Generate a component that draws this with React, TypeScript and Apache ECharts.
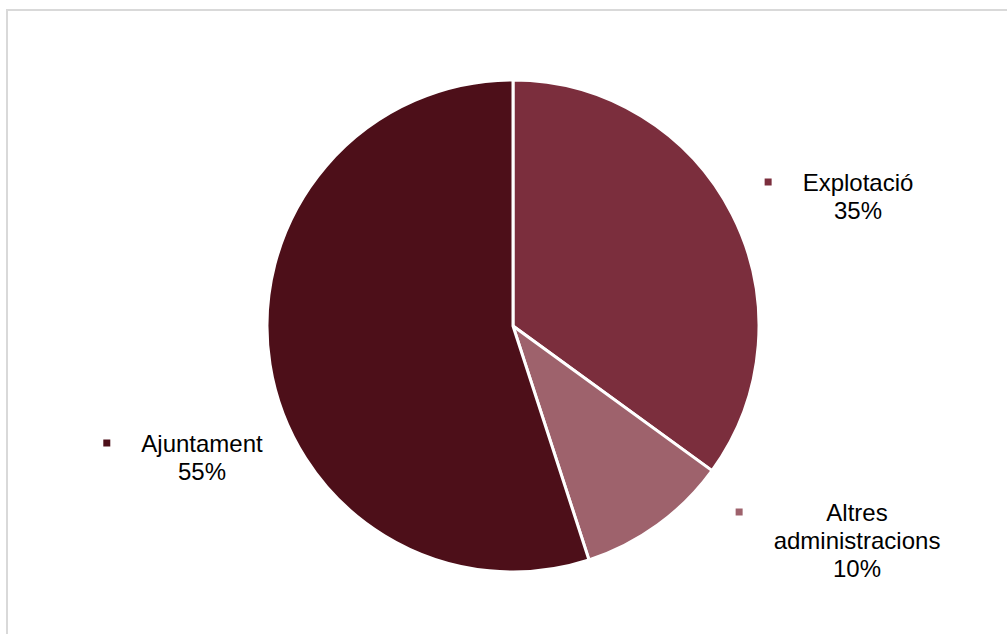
import React, { useEffect, useRef } from "react";
import * as echarts from "echarts";

const categories = ["Explotació", "Altres\nadministracions", "Ajuntament"];
const values = [35, 10, 55];
const percentLabels = ["35%", "10%", "55%"];
const colors = ["#7B2E3D", "#9E626C", "#4D0F19"];
const labelCenters: [number, number][] = [
  [858, 196],
  [857, 540],
  [202, 457],
];

const MARK = 7;
const GAP = 31;
const SIDE = MARK + GAP;

export default function App() {
  const ref = useRef<HTMLDivElement>(null);
  useEffect(() => {
    document.body.style.margin = "0";
    const chart = echarts.init(ref.current!, null, { renderer: "svg" });
    const rich: any = {
      g: { width: GAP, height: 10, lineHeight: 28, align: "left" },
      sl: { width: SIDE, height: 10, lineHeight: 28, align: "left" },
      sr: { width: SIDE, height: 10, lineHeight: 28, align: "right" },
      t: { fontSize: 24, lineHeight: 28, color: "#000", fontFamily: "Liberation Sans, Arial, sans-serif" },
    };
    colors.forEach((c, i) => {
      rich["m" + i] = { width: MARK, height: MARK, backgroundColor: c, lineHeight: 28, align: "left" };
    });
    chart.setOption({
      animation: false,
      backgroundColor: "#ffffff",
      graphic: [
        {
          type: "rect",
          shape: { x: 7, y: 10, width: 1100, height: 700 },
          style: { fill: "none", stroke: "#d9d9d9", lineWidth: 2 },
          silent: true,
        },
      ],
      series: [
        {
          type: "pie",
          center: [513, 326],
          radius: [0, 246],
          startAngle: 90,
          clockwise: true,
          itemStyle: { borderColor: "#ffffff", borderWidth: 3 },
          labelLine: { show: false },
          label: {
            show: true,
            position: "outside",
            align: "center",
            fontSize: 24,
            color: "#000",
            fontFamily: "Liberation Sans, Arial, sans-serif",
            lineHeight: 28,
            formatter: (p: any) => {
              const i = p.dataIndex;
              const lines = String(p.name).split("\n");
              const out: string[] = [];
              lines.forEach((ln, k) => {
                if (k === 0) out.push(`{m${i}|}{g|}{t|${ln}}{sr|}`);
                else out.push(`{sl|}{t|${ln}}{sr|}`);
              });
              out.push(`{sl|}{t|${percentLabels[i]}}{sr|}`);
              return out.join("\n");
            },
            rich,
          },
          labelLayout: (params: any) => {
            const p = labelCenters[params.dataIndex];
            return { x: p[0], y: p[1], align: "center", verticalAlign: "middle" };
          },
          data: categories.map((name, i) => ({
            name,
            value: values[i],
            itemStyle: { color: colors[i] },
          })),
        },
      ],
    });
    return () => chart.dispose();
  }, []);
  return <div ref={ref} style={{ width: 1007, height: 634 }} />;
}
